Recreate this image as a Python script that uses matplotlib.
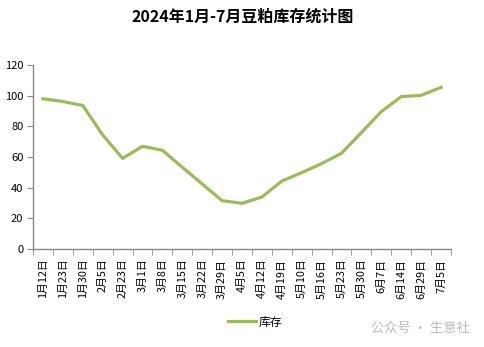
import matplotlib.pyplot as plt
import numpy as np

plt.rcParams['font.family'] = ['Noto Sans CJK SC', 'DejaVu Sans']

# 豆粕库存（万吨）
dates = ['1月12日', '1月23日', '1月30日', '2月5日', '2月23日', '3月1日', '3月8日',
         '3月15日', '3月22日', '3月29日', '4月5日', '4月12日', '4月19日', '5月10日',
         '5月16日', '5月23日', '5月30日', '6月7日', '6月14日', '6月29日', '7月5日']
stock = [98.0, 96.2, 93.6, 74.4, 59.1, 67.0, 64.4, 53.3, 42.4, 31.5, 29.8, 33.9,
         44.3, 49.8, 55.7, 62.4, 76.0, 89.6, 99.4, 100.2, 105.4]
yticks = [0, 20, 40, 60, 80, 100, 120]

fig = plt.figure(figsize=(4.85, 3.47), dpi=100)
ax = fig.add_axes([33 / 485, 1 - 249 / 347, 418 / 485, 184 / 347])

x = np.arange(len(dates))
line, = ax.plot(x, stock, color='#9bbb59', linewidth=2.3, solid_joinstyle='round',
                label='库存')

ax.set_xlim(-0.5, len(dates) - 0.5)
ax.set_ylim(0, 120)
ax.set_yticks(yticks)
ax.set_yticklabels([str(v) for v in yticks], fontsize=8)

# 刻度线在分类之间，标签在分类中间
ax.set_xticks(x)
ax.set_xticklabels(dates, rotation=90, fontsize=7.8)
ax.set_xticks(np.arange(-0.5, len(dates)), minor=True)
ax.tick_params(axis='x', which='major', length=0, pad=7)
ax.tick_params(axis='x', which='minor', length=4, color='#888888', direction='out')
ax.tick_params(axis='y', length=4, color='#888888', direction='out', pad=3)

for side in ['top', 'right']:
    ax.spines[side].set_visible(False)
for side in ['left', 'bottom']:
    ax.spines[side].set_color('#888888')
    ax.spines[side].set_linewidth(1.0)

fig.text(0.5, 1 - 17 / 347, '2024年1月-7月豆粕库存统计图', ha='center', va='center',
         fontsize=11.5, fontweight='bold')

fig.legend(handles=[line], loc='center', bbox_to_anchor=(255 / 485, 1 - 322 / 347),
           frameon=False, fontsize=8.5, handlelength=2.4, handletextpad=0.2)

fig.text(470 / 485, 1 - 328 / 347, '公众号 · 生意社', ha='right', va='center',
         fontsize=9.5, color='#bbbbbb')

fig.savefig('out.png', dpi=100)
